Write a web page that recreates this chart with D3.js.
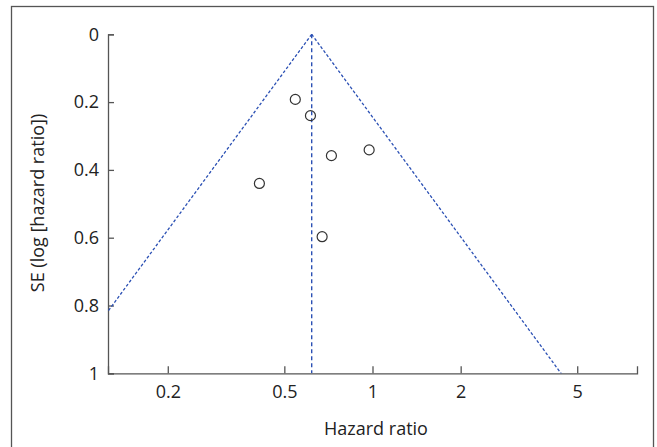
<!DOCTYPE html>
<html><head><meta charset="utf-8">
<script src="https://cdn.jsdelivr.net/npm/d3@7"></script>
<style>body{margin:0;background:#fff}svg{display:block}</style>
</head><body>
<script>
const hazardRatios = [0.545, 0.614, 0.724, 0.974, 0.411, 0.673];
const seValues     = [0.192, 0.240, 0.358, 0.341, 0.440, 0.597];
const pooledHR = 0.62;
const xTicks = [0.2, 0.5, 1, 2, 5];
const yTicks = [0, 0.2, 0.4, 0.6, 0.8, 1];
const xLabel = "Hazard ratio";
const yLabel = "SE (log [hazard ratio])";

const W = 657, H = 447;
const svg = d3.select("body").append("svg").attr("width", W).attr("height", H);
const font = "'Open Sans', sans-serif";

svg.append("rect").attr("x", 11.5).attr("y", 6.5).attr("width", 642).attr("height", 450)
  .attr("fill", "none").attr("stroke", "#555").attr("stroke-width", 1.3);

const x = d3.scaleLog().domain([0.125, 8]).range([108, 637]);
const y = d3.scaleLinear().domain([0, 1]).range([34.3, 373.3]);

const axisColor = "#555";
const ya = svg.append("g").attr("transform", "translate(108,0)")
  .call(d3.axisLeft(y).tickValues(yTicks).tickSize(-6).tickPadding(9).tickFormat(d3.format("")));
const xa = svg.append("g").attr("transform", "translate(0,373.3)")
  .call(d3.axisBottom(x).tickValues(xTicks).tickSize(-7).tickPadding(12).tickFormat(d => String(d)));
[ya, xa].forEach(g => {
  g.select(".domain").attr("stroke", axisColor).attr("stroke-width", 1.3);
  g.selectAll(".tick line").attr("stroke", axisColor).attr("stroke-width", 1.3);
  g.selectAll(".tick text").attr("fill", "#222").style("font-family", font).style("font-size", "18px");
});
xa.selectAll(".tick text").attr("dy", "0.71em");

const clip = svg.append("clipPath").attr("id", "c").append("rect")
  .attr("x", 108).attr("y", 30).attr("width", 529).attr("height", 343.3);
const z = 1.96;
const lp = Math.log(pooledHR);
const blue = "#2b50b4";
const lineL = [[pooledHR, 0], [Math.exp(lp - z * 1.2), 1.2]];
const lineR = [[pooledHR, 0], [Math.exp(lp + z * 1.2), 1.2]];
const gen = d3.line().x(d => x(d[0])).y(d => y(d[1]));
const fg = svg.append("g").attr("clip-path", "url(#c)");
[lineL, lineR].forEach(l => fg.append("path").attr("d", gen(l)).attr("fill", "none")
  .attr("stroke", blue).attr("stroke-width", 1.3).attr("stroke-dasharray", "3,2"));
fg.append("path").attr("d", gen([[pooledHR, 0], [pooledHR, 1]])).attr("fill", "none")
  .attr("stroke", blue).attr("stroke-width", 1.4).attr("stroke-dasharray", "4,3");

svg.append("g").selectAll("circle").data(hazardRatios).join("circle")
  .attr("cx", d => x(d)).attr("cy", (d, i) => y(seValues[i])).attr("r", 5)
  .attr("fill", "none").attr("stroke", "#333").attr("stroke-width", 1.2);

svg.append("text").attr("x", 376).attr("y", 435).attr("text-anchor", "middle")
  .style("font-family", font).style("font-size", "18px").attr("fill", "#222").text(xLabel);
svg.append("text").attr("transform", "translate(44,203) rotate(-90)").attr("text-anchor", "middle")
  .style("font-family", font).style("font-size", "18px").attr("fill", "#222").text(yLabel);
</script>
</body></html>
